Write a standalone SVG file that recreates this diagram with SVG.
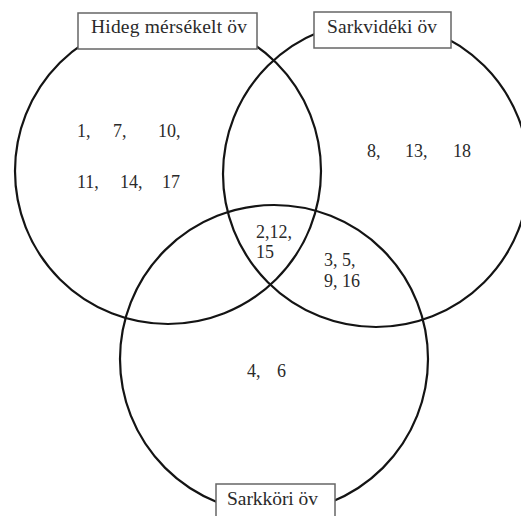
<svg xmlns="http://www.w3.org/2000/svg" width="521" height="516" viewBox="0 0 521 516">
<style>
.set{fill:none;stroke:#141414;stroke-width:2.2}
.box{fill:#fff;stroke:#666;stroke-width:1.5}
.lbl{font-family:"Liberation Serif","Times New Roman",serif;font-size:19.5px;fill:#2a2a2a}
.num{font-family:"Liberation Serif","Times New Roman",serif;font-size:18px;fill:#2a2a2a}
</style>
<rect width="521" height="516" fill="#fff"/>
<g id="circle-hideg"><circle class="set" cx="168" cy="171" r="153"/></g>
<g id="circle-sarkvideki"><circle class="set" cx="376" cy="174" r="153"/></g>
<g id="circle-sarkkori"><circle class="set" cx="274" cy="359" r="154"/></g>
<g id="label-hideg">
<rect class="box" x="78" y="13" width="179" height="36"/>
<text class="lbl" x="91" y="33" textLength="156" lengthAdjust="spacing">Hideg mérsékelt öv</text>
</g>
<g id="label-sarkvideki">
<rect class="box" x="314" y="12" width="137" height="36"/>
<text class="lbl" x="327" y="33" textLength="110" lengthAdjust="spacing">Sarkvidéki öv</text>
</g>
<g id="label-sarkkori">
<rect class="box" x="216" y="484" width="119" height="40"/>
<text class="lbl" x="227" y="505" textLength="91" lengthAdjust="spacing">Sarkköri öv</text>
</g>
<g id="region-hideg-only">
<text class="num" x="77" y="137">1,</text>
<text class="num" x="113" y="137">7,</text>
<text class="num" x="158" y="137">10,</text>
<text class="num" x="77" y="188">11,</text>
<text class="num" x="120" y="188">14,</text>
<text class="num" x="162" y="188">17</text>
</g>
<g id="region-sarkvideki-only">
<text class="num" x="367" y="157">8,</text>
<text class="num" x="405" y="157">13,</text>
<text class="num" x="453" y="157">18</text>
</g>
<g id="region-all">
<text class="num" x="256" y="238">2,12,</text>
<text class="num" x="256" y="258">15</text>
</g>
<g id="region-sarkvideki-sarkkori">
<text class="num" x="324" y="266">3, 5,</text>
<text class="num" x="324" y="287">9, 16</text>
</g>
<g id="region-sarkkori-only">
<text class="num" x="247" y="377">4,</text>
<text class="num" x="277" y="377">6</text>
</g>
</svg>
